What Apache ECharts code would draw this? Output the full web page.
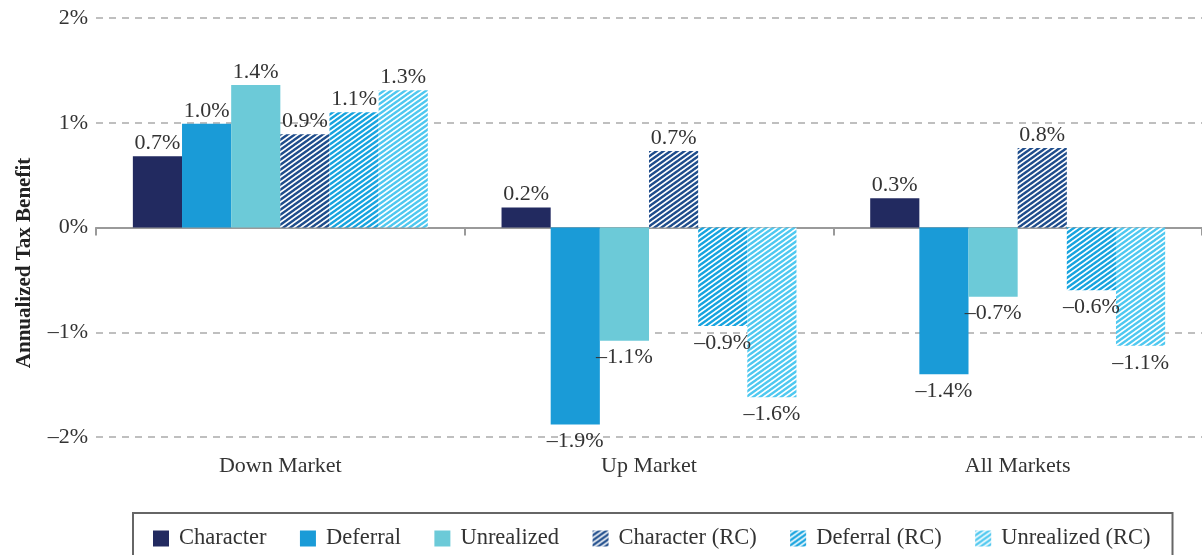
<!DOCTYPE html>
<html>
<head>
<meta charset="utf-8">
<script src="https://cdn.jsdelivr.net/npm/echarts@6/dist/echarts.min.js"></script>
<style>
html,body{margin:0;padding:0;background:#fff;}
#chart{width:1202px;height:555px;}
</style>
</head>
<body>
<div id="chart"></div>
<script>
const categories = ['Down Market', 'Up Market', 'All Markets'];
const seriesNames = ['Character', 'Deferral', 'Unrealized', 'Character (RC)', 'Deferral (RC)', 'Unrealized (RC)'];
const character = [0.68, 0.19, 0.28];
const deferral = [0.99, -1.88, -1.40];
const unrealized = [1.36, -1.08, -0.66];
const characterRC = [0.89, 0.73, 0.76];
const deferralRC = [1.10, -0.94, -0.60];
const unrealizedRC = [1.31, -1.62, -1.13];
const yTicks = [-2, -1, 0, 1, 2];

const seriesValues = [character, deferral, unrealized, characterRC, deferralRC, unrealizedRC];
const solidColors = ['#222a60', '#1a9bd7', '#6ccad8'];
const stripeColors = ['#1f4d8c', '#17a4df', '#4fc8f0'];

function stripe(color) {
  const w = 7, h = 5;
  const c = document.createElement('canvas');
  c.width = w; c.height = h;
  const ctx = c.getContext('2d');
  ctx.fillStyle = '#ffffff';
  ctx.fillRect(0, 0, w, h);
  ctx.strokeStyle = color;
  ctx.lineWidth = 2.4;
  ctx.beginPath();
  for (let k = -1; k <= 1; k++) {
    ctx.moveTo(k * w - 1, h + h / w); ctx.lineTo(k * w + w + 1, -h / w);
  }
  ctx.stroke();
  return { image: c, repeat: 'repeat' };
}

const FONT = 'Liberation Serif';
const fmt = v => (v < 0 ? '\u2013' : '') + Math.abs(v).toFixed(1) + '%';

const series = seriesNames.map((name, i) => ({
  name: name,
  type: 'bar',
  xAxisIndex: 0,
  barGap: '0%',
  barCategoryGap: '20%',
  itemStyle: { color: i < 3 ? solidColors[i] : stripe(stripeColors[i - 3]) },
  label: {
    show: true,
    color: '#333',
    fontFamily: FONT,
    fontSize: 22,
    formatter: p => fmt(p.value)
  },
  data: seriesValues[i].map(v => ({
    value: v,
    label: { position: v < 0 ? 'bottom' : 'top', distance: v < 0 ? 6 : 2 }
  }))
}));

const chart = echarts.init(document.getElementById('chart'), null, { renderer: 'canvas' });
chart.setOption({
  animation: false,
  backgroundColor: '#fff',
  grid: { left: 96, top: 18, width: 1113, bottom: 118, containLabel: false },
  xAxis: [
    {
      type: 'category', data: categories, position: 'bottom',
      axisLine: { show: false, onZero: false }, axisTick: { show: false },
      axisLabel: { color: '#333', fontFamily: FONT, fontSize: 22, margin: 18 },
      splitLine: { show: false }
    },
    {
      type: 'category', data: categories, position: 'top',
      axisLine: { show: true, onZero: true, lineStyle: { color: '#9a9a9a', width: 2 } },
      axisTick: { show: true, inside: true, length: 8, lineStyle: { color: '#9a9a9a', width: 2 } },
      axisLabel: { show: false }, splitLine: { show: false }
    }
  ],
  yAxis: {
    type: 'value', min: yTicks[0], max: yTicks[yTicks.length - 1], interval: 1,
    axisLine: { show: false }, axisTick: { show: false },
    axisLabel: { color: '#333', fontFamily: FONT, fontSize: 22, margin: 8, formatter: v => fmt(v).replace('.0', '') },
    splitLine: { show: true, lineStyle: { color: '#aaaaaa', width: 1.5, type: [7, 6] } }
  },
  legend: {
    data: seriesNames,
    left: 133, top: 513,
    padding: [14, 22, 17, 20],
    borderColor: '#666', borderWidth: 2,
    itemWidth: 16, itemHeight: 16, itemGap: 33.5,
    icon: 'rect',
    textStyle: { color: '#333', fontFamily: FONT, fontSize: 22.5, padding: [0, 0, 0, 5] }
  },
  graphic: [{
    type: 'text', x: 25, y: 263, rotation: Math.PI / 2,
    style: { text: 'Annualized Tax Benefit', font: 'bold 21px "Liberation Serif"', fill: '#222', textAlign: 'center', textVerticalAlign: 'middle' }
  }],
  series: series
});
</script>
</body>
</html>
